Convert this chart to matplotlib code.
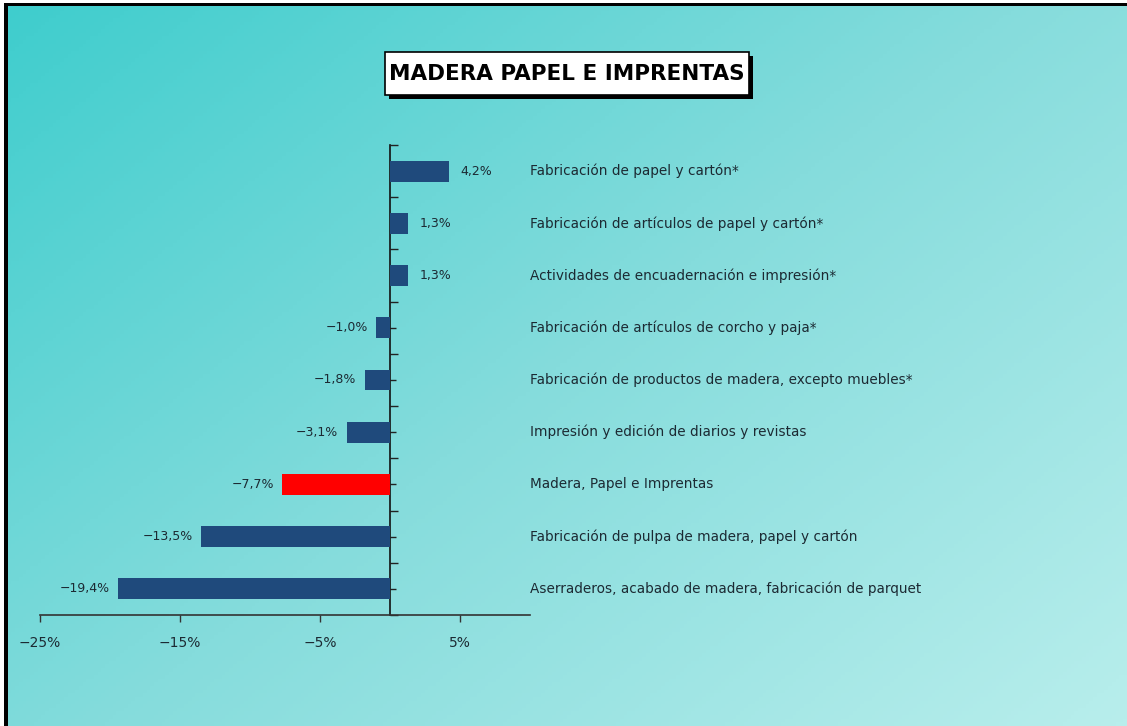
import matplotlib
matplotlib.use("Agg")
import matplotlib.pyplot as plt
from matplotlib.patches import Rectangle
from matplotlib import font_manager
import numpy as np
from matplotlib.colors import LinearSegmentedColormap

# data, top to bottom as in the picture
categories = [
    "Fabricación de papel y cartón*",
    "Fabricación de artículos de papel y cartón*",
    "Actividades de encuadernación e impresión*",
    "Fabricación de artículos de corcho y paja*",
    "Fabricación de productos de madera, excepto muebles*",
    "Impresión y edición de diarios y revistas",
    "Madera, Papel e Imprentas",
    "Fabricación de pulpa de madera, papel y cartón",
    "Aserraderos, acabado de madera, fabricación de parquet",
]
values = [4.2, 1.3, 1.3, -1.0, -1.8, -3.1, -7.7, -13.5, -19.4]
highlight = "Madera, Papel e Imprentas"
x_ticks = [-25, -15, -5, 5]

BAR = "#1f4a7c"
RED = "#ff0000"
TXT = "#1c2a33"

W, H = 1127, 726
fig = plt.figure(figsize=(W / 100, H / 100), dpi=100)

# gradient background
bg = fig.add_axes([0, 0, 1, 1], zorder=0)
yy, xx = np.mgrid[0:1:200j, 0:1:300j]
grad = 0.55 * xx + 0.45 * yy
cmap = LinearSegmentedColormap.from_list("bg", ["#3ecdcd", "#85dcdc", "#b8eeec"])
bg.imshow(grad, cmap=cmap, aspect="auto", extent=[0, 1, 1, 0])
bg.set_xlim(0, 1)
bg.set_ylim(1, 0)
bg.axis("off")
# white margin and black frame lines on the left and top
for (rx, ry, rw, rh, col) in [(0, 0, 4, H, "white"), (0, 0, W, 3, "white"),
                              (4, 3, 3.5, H, "black"), (4, 3, W, 2.5, "black")]:
    bg.add_patch(Rectangle((rx / W, ry / H), rw / W, rh / H, fc=col, lw=0))

# title box (pixel coords, y down) with a solid drop shadow
bx0, bx1, by0, by1 = 385, 749, 52, 95
bg.add_patch(Rectangle(((bx0 + 4) / W, (by0 + 4) / H), (bx1 - bx0) / W, (by1 - by0) / H,
                       fc="black", lw=0, zorder=3))
bg.add_patch(Rectangle((bx0 / W, by0 / H), (bx1 - bx0) / W, (by1 - by0) / H,
                       fc="white", ec="black", lw=1.2, zorder=4))

# main axes
x0, x1 = 40, 530
y_top, y_bot = 145, 615
ax = fig.add_axes([x0 / W, 1 - y_bot / H, (x1 - x0) / W, (y_bot - y_top) / H], zorder=2)
ax.patch.set_alpha(0)

pos = np.arange(len(categories))
colors = [RED if c == highlight else BAR for c in categories]
ax.barh(pos, values, height=0.4, color=colors, zorder=3)

ax.set_xlim(-25, 10)
ax.set_ylim(len(categories) - 0.5, -0.5)

for spine in ("top", "right"):
    ax.spines[spine].set_visible(False)
ax.spines["left"].set_position(("data", 0))
ax.spines["left"].set_color("#111111")
ax.spines["bottom"].set_color("#333333")
ax.spines["left"].set_linewidth(1.2)
ax.spines["bottom"].set_linewidth(1.2)

ax.set_yticks(np.arange(len(categories) + 1) - 0.5)
ax.set_yticks(pos, minor=True)
ax.set_yticklabels([])
ax.tick_params(axis="y", which="major", direction="in", length=6, width=1, color="#222222")
ax.tick_params(axis="y", which="minor", direction="in", length=4, width=1, color="#222222")

ax.set_xticks(x_ticks)
ax.set_xticklabels([f"{t}%".replace("-", "−") for t in x_ticks], fontsize=10, color=TXT)
ax.tick_params(axis="x", direction="out", length=5, width=1, color="#333333", pad=10)

for p, v, c in zip(pos, values, categories):
    lab = f"{v:.1f}%".replace(".", ",").replace("-", "−")
    if v >= 0:
        ax.annotate(lab, (v, p), xytext=(8, 0), textcoords="offset points",
                    ha="left", va="center", fontsize=9, color=TXT)
    else:
        ax.annotate(lab, (v, p), xytext=(-6, 0), textcoords="offset points",
                    ha="right", va="center", fontsize=9, color=TXT)
    ax.text(10, p, c, ha="left", va="center", fontsize=9.8, color=TXT)

# title text; a condensed face if one is installed
names = {f.name for f in font_manager.fontManager.ttflist}
if "Liberation Sans Narrow" in names:
    tfont = dict(family="Liberation Sans Narrow", fontsize=21)
elif "DejaVu Sans Condensed" in names:
    tfont = dict(family="DejaVu Sans", fontstretch="condensed", fontsize=17)
else:
    tfont = dict(family="DejaVu Sans", fontsize=15.5)
fig.text((bx0 + bx1) / 2 / W, 1 - (by0 + by1) / 2 / H, "MADERA PAPEL E IMPRENTAS",
         ha="center", va="center", fontweight="bold", color="black", zorder=5, **tfont)

fig.savefig("out.png", dpi=100)
